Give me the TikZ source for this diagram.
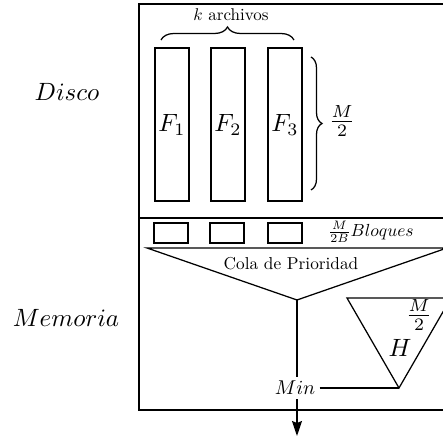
\documentclass[tikz,border=0pt]{standalone}
\usetikzlibrary{decorations.pathreplacing,arrows.meta}
\begin{document}
\begin{tikzpicture}[x=0.4pt,y=-0.4pt,line width=0.5pt,
  filebox/.style={draw,line width=0.8pt,minimum width=13.6pt,minimum height=61.2pt,inner sep=0pt},
  blockbox/.style={draw,line width=0.8pt,minimum width=13.6pt,minimum height=8pt,inner sep=0pt},
  lbl/.style={inner sep=0pt,scale=#1},
  bigl/.style={inner sep=0pt},
  bracestyle/.style={decorate,decoration={brace,amplitude=#1}},
  arr/.style={-{Stealth[length=6pt,width=4pt,inset=0.8pt]}}]
\useasboundingbox (0,0) rectangle (443,438);
\clip (0,0) rectangle (443,438);

% frame
\draw (139,4) rectangle (470,410);
\draw (139,218) -- (470,218);

% side labels
\node[bigl] (disco) at (67,92) {$Disco$};
\node[bigl] (memoria) at (66,318) {$Memoria$};

% files
\node[filebox] (f1) at (172,125) {$F_1$};
\node[filebox] (f2) at (228,125) {$F_2$};
\node[filebox] (f3) at (285,125) {$F_3$};

% braces
\coordinate (bt1) at (161,40);
\coordinate (bt2) at (294,40);
\draw[bracestyle=5.2pt] (bt1) -- (bt2);
\node[lbl=0.68] (karch) at (231,15) {$k$ archivos};
\coordinate (br1) at (311,57);
\coordinate (br2) at (311,190);
\draw[bracestyle=4.4pt] (br1) -- (br2);
\node[bigl] (mhalf) at (342,121) {$\frac{M}{2}$};

% blocks
\node[blockbox] (b1) at (171.5,233) {};
\node[blockbox] (b2) at (227,233) {};
\node[blockbox] (b3) at (285,233) {};
\node[lbl=0.7] (bloques) at (371,232) {$\frac{M}{2B}Bloques$};

% priority queue
\coordinate (pqL) at (147,248);
\coordinate (pqA) at (297,300);
\coordinate (pqR) at (447,248);
\draw (pqL) -- (pqA) -- (pqR) -- cycle;
\node[lbl=0.69] (cola) at (291,264) {Cola de Prioridad};

% min
\node[inner sep=2pt,scale=0.8] (min) at (295,388) {$Min$};
\draw (pqA) -- (pqA |- min.north);
\coordinate (out) at (297,436);
\draw[arr] (min.south -| pqA) -- (out);

% heap H
\coordinate (hL) at (347,298);
\coordinate (hB) at (399,388);
\coordinate (hR) at (451,298);
\draw (hL) -- (hB) -- (hR) -- cycle;
\node[bigl] (H) at (400,348) {$H$};
\node[bigl] (hm) at (419,315) {$\frac{M}{2}$};
\draw (min.east) -- (hB);
\end{tikzpicture}
\end{document}
